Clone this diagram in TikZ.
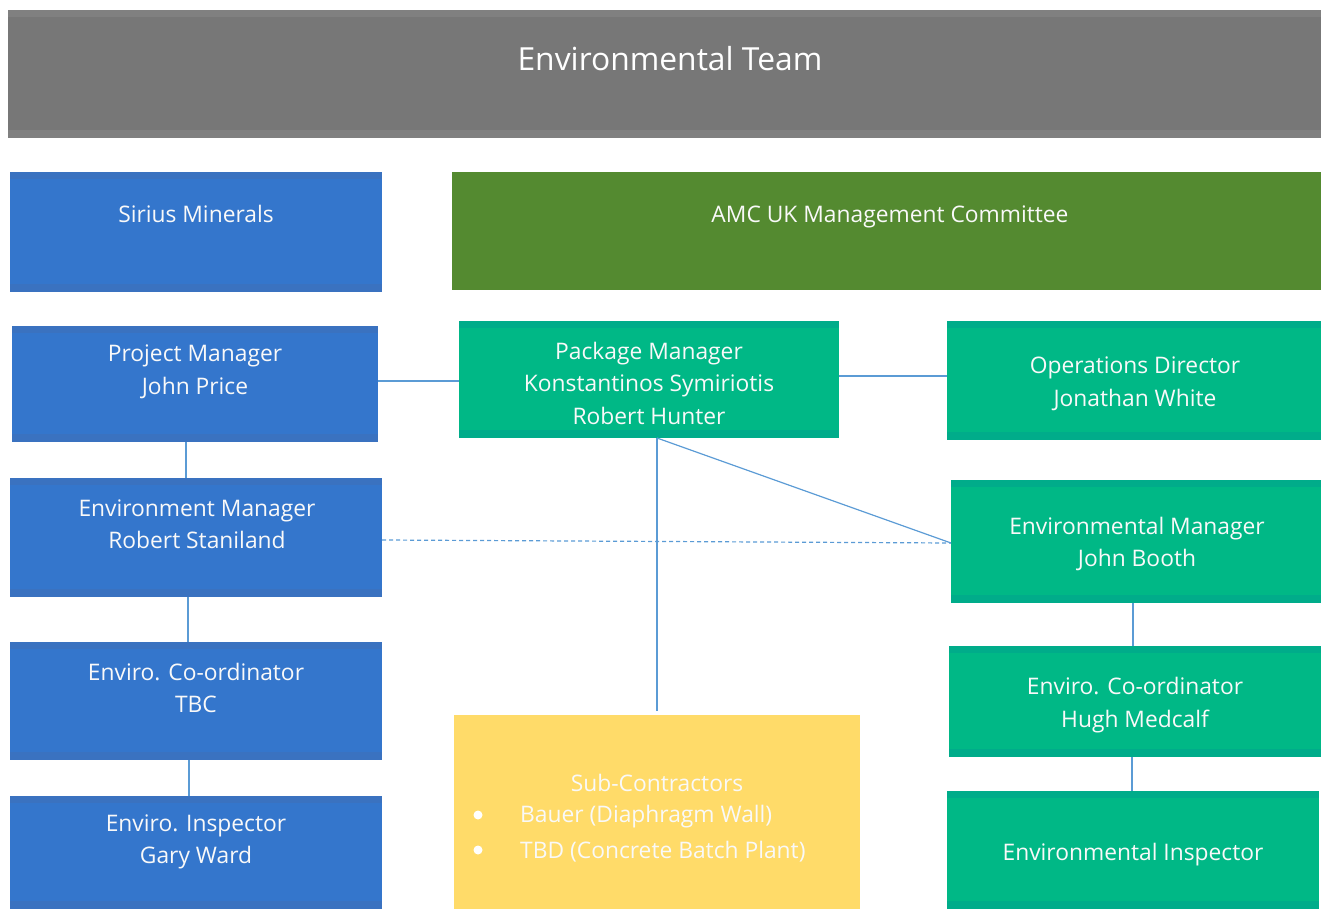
\documentclass[tikz,border=0pt]{standalone}
\usepackage{fontspec}
\setmainfont{Open Sans}
\definecolor{cgray}{HTML}{777777}
\definecolor{cgraylt}{HTML}{808080}
\definecolor{cblue}{HTML}{3476CC}
\definecolor{cbluedk}{HTML}{3A72C0}
\definecolor{cgreen}{HTML}{00B886}
\definecolor{cgreendk}{HTML}{00AC8A}
\definecolor{colive}{HTML}{548A30}
\definecolor{cyellow}{HTML}{FFDB69}
\definecolor{cline}{HTML}{5B9BD5}
\tikzset{
  box/.style={anchor=north west, inner sep=0pt, outer sep=0pt, draw=none},
  strips/.style={path picture={
    \fill[#1] (path picture bounding box.north west) rectangle ([yshift=-7pt]path picture bounding box.north east);
    \fill[#1] (path picture bounding box.south west) rectangle ([yshift=8pt]path picture bounding box.south east);}},
  graybox/.style={box, fill=cgray, strips=cgraylt},
  bluebox/.style={box, fill=cblue, strips=cbluedk},
  greenbox/.style={box, fill=cgreen, strips=cgreendk},
  olivebox/.style={box, fill=colive},
  yellowbox/.style={box, fill=cyellow},
  lbl/.style={text=white!95!gray, align=center, inner sep=0pt, font=\fontsize{22.8}{32.5}\selectfont},
  ttl/.style={text=white, inner sep=0pt, font=\fontsize{31.8}{36}\selectfont},
  bul/.style={circle, fill=white, inner sep=0pt, minimum size=9pt},
  conn/.style={draw=cline, line width=1.2pt},
  dconn/.style={conn, dash pattern=on 4pt off 3pt},
}
\begin{document}
\begin{tikzpicture}[x=1pt,y=-1pt]
\useasboundingbox (0,0) rectangle (1321,909);
% boxes
\node[graybox, minimum width=1313pt, minimum height=128pt] (title) at (8,10) {};
\node[bluebox, minimum width=372pt, minimum height=120pt] (sirius) at (10,172) {};
\node[olivebox, minimum width=869pt, minimum height=118pt] (amc) at (452,172) {};
\node[bluebox, minimum width=366pt, minimum height=116pt] (pm) at (12,326) {};
\node[greenbox, minimum width=380pt, minimum height=117pt] (pkg) at (459,321) {};
\node[greenbox, minimum width=374pt, minimum height=119pt] (ops) at (947,321) {};
\node[bluebox, minimum width=372pt, minimum height=119pt] (em) at (10,478) {};
\node[greenbox, minimum width=370pt, minimum height=123pt] (jb) at (951,480) {};
\node[bluebox, minimum width=372pt, minimum height=118pt] (eco) at (10,642) {};
\node[greenbox, minimum width=372pt, minimum height=111pt] (hugh) at (949,646) {};
\node[bluebox, minimum width=372pt, minimum height=113pt] (ei) at (10,796) {};
\node[greenbox, minimum width=372pt, minimum height=118pt] (insp) at (947,791) {};
\node[yellowbox, minimum width=406pt, minimum height=194pt] (sub) at (454,715) {};
% texts
\node[ttl] (ttitle) at (670,59) {Environmental Team};
\node[lbl] (tsirius) at (196,214) {Sirius Minerals};
\node[lbl] (tamc) at (890,217) {AMC UK Management Committee};
\node[lbl] (tpm) at (195,372) {Project Manager\\John Price};
\node[lbl] (tpkg) at (649,383) {Package Manager\\Konstantinos Symiriotis\\Robert Hunter};
\node[lbl] (tops) at (1135,384) {Operations Director\\Jonathan White};
\node[lbl] (tem) at (197,524) {Environment Manager\\Robert Staniland};
\node[lbl] (tjb) at (1137,544) {Environmental Manager\\John Booth};
\node[lbl] (teco) at (196,688) {Enviro. Co-ordinator\\TBC};
\node[lbl] (thugh) at (1135,705) {Enviro. Co-ordinator\\Hugh Medcalf};
\node[lbl] (tei) at (196,842) {Enviro. Inspector\\Gary Ward};
\node[lbl] (tinsp) at (1133,855) {Environmental Inspector};
\node[lbl] (tsub) at (657,783) {Sub-Contractors};
\node[bul] (b1) at (478,815) {};
\node[bul] (b2) at (478,850) {};
\node[lbl, anchor=west] (s1) at (520,817) {Bauer (Diaphragm Wall)};
\node[lbl, anchor=west] (s2) at (520,852) {TBD (Concrete Batch Plant)};
% connectors
\coordinate (subtop) at (657,711);
\draw[conn] (pm.east |- 0,381) -- (pkg.west |- 0,381);
\draw[conn] (pkg.east |- 0,376) -- (ops.west |- 0,376);
\draw[conn] (pm.south -| 186,0) -- (em.north -| 186,0);
\draw[conn] (em.south -| 188,0) -- (eco.north -| 188,0);
\draw[conn] (eco.south -| 189,0) -- (ei.north -| 189,0);
\draw[conn] (pkg.south -| 657,0) -- (subtop);
\draw[conn] (pkg.south -| 657,0) -- (jb.west |- 0,543);
\draw[dconn] (em.east |- 0,540) -- (jb.west |- 0,543);
\draw[conn] (jb.south -| 1133,0) -- (hugh.north -| 1133,0);
\draw[conn] (hugh.south -| 1132,0) -- (insp.north -| 1132,0);
\end{tikzpicture}
\end{document}
